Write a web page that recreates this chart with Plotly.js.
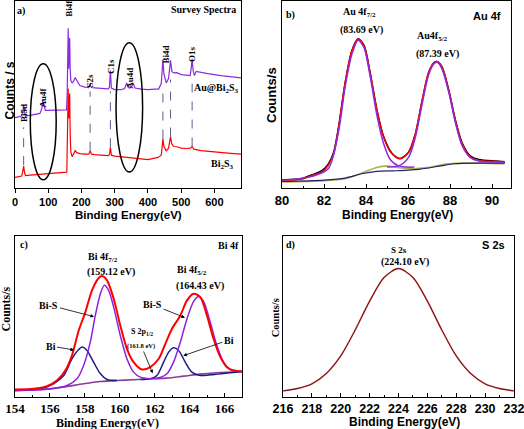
<!DOCTYPE html>
<html><head><meta charset="utf-8">
<script src="https://cdn.plot.ly/plotly-3.0.1.min.js"></script>
<style>html,body{margin:0;padding:0;background:#fff}</style>
</head><body>
<div id="chart" style="width:524px;height:429px"></div>
<script>
// ---------- Panel a: survey spectra (arbitrary counts) ----------
const surveyE_Au = [0,10,20,23,26,29,32,45,60,75,81,84,86,88,91,100,120,150,155,157,158.5,160,161.5,163,164.5,166,168,172,176,181,186,195,210,222,226,230,240,260,280,284,287,290,300,320,330,336,341,346,351,356,361,380,400,420,432,440,443,445,448,455,462,465,468,472,478,487,500,515,527,530,533,536,540,545,555,580,620,650,680];
const surveyCounts_Au = [70.7,71.5,72.3,76,83,76,72.5,73,74,75,80,89,82,84,78,78,78,78.3,78.5,95,140,160.7,120,140,150.7,120,108,105.7,107,111,108,103,101.5,101,103.5,101,100.7,100.5,99.7,101,118,100.5,99,99,100,105.7,101,100.5,102,105,100.5,99.5,99,99.5,99.5,105,120,129,115,105.7,110,120,128.3,117,115.7,116,114,113.5,113,120,130,118,113,117.3,116.5,115,113,112,110.7];
const surveyE_Bi = [0,10,20,23,26,29,32,45,60,80,100,120,150,155,156,157,158.5,160,161.5,163,164.5,166,168,172,176,181,186,195,210,222,226,230,240,260,280,284,287,290,300,330,360,400,430,440,443,445,448,455,462,465,468,472,478,487,500,515,528,533,538,560,600,640,680];
const surveyCounts_Bi = [10.7,11.5,12,16,22,15,12.5,13,13.5,14,14.5,15,16,16,17,45,85,100,70,85,95,55,36,31.5,34,37.5,35.5,34.5,34,34,37.5,34,33.5,33,32.5,33.5,41,33,32,31,30,28.5,30.7,33,42,49.7,42,37.3,40,45,51.7,44,41.7,41.5,40,39.7,40,41.7,39,37.5,36,35,34];
const surveyPeakE = [26,226,287,445,468,533];
const surveyDashTop = [61,97,97,95.7,109,112];
const surveyDashBottom = [23,37.5,41,49.7,51.7,41.7];
const surveyLabels = ['Bi5d','Au4f','Bi4f','S2s','C1s','Au4d','Bi4d','O1s'];
const surveyLabelE = [27,84,162,227,287,347,457,534];

// ---------- Panel b: Au 4f ----------
const au_E = [80,81,81.43,81.9,82.2,82.46,82.7,83,83.33,83.62,83.9,84.2,84.52,84.84,85.24,85.63,86.03,86.35,86.67,86.98,87.25,87.4,87.62,87.94,88.25,88.57,88.97,89.37,90.16,90.6];
const au_data = [24,29,40,52,72,108,186,314,414,449,430,345,234,154,104,89,108,163,262,347,378,380,364,294,205,136,96,86,81,79];
const au_fit  = [23,28,38,48,68,103,183,313,413,448,428,343,233,153,103,88,108,163,263,348,378,380,363,293,203,133,93,83,80,78];
const au_p1_E = [80,81.43,82.2,82.7,83,83.33,83.62,83.9,84.2,84.52,84.84,85.16,85.5,85.9,86.3];
const au_p1   = [23,35,58,173,303,403,445,423,335,218,133,85,68,63,63];
const au_p2_E = [85,85.6,86.03,86.35,86.67,86.98,87.25,87.4,87.62,87.94,88.25,88.57,88.97,89.37,90.16,90.6];
const au_p2   = [63,68,93,153,253,341,375,378,358,288,198,128,91,81,78,76];
const au_bg1_E = [80,82,83,83.8,84.5,85,85.5,86.2,87,87.8,88.5,89.5,90.6];
const au_bg1   = [18,22,28,45,62,66,62,58,62,72,75,75,73];
const au_bg2_E = [80,82,83,83.8,84.5,85.5,86.5,87.5,88.2,89.5,90.6];
const au_bg2   = [20,24,30,43,50,52,56,66,73,75,75];

// ---------- Panel c: Bi 4f ----------
const bi_E = [154,155.07,155.83,156.4,156.88,157.26,157.65,158.03,158.41,158.79,158.98,159.27,159.65,160.03,160.41,160.79,161.27,161.75,162.23,162.61,162.99,163.47,163.85,164.23,164.61,164.99,165.37,165.76,166.14,166.52,167];
const bi_fit = [21,23,31,48,78,123,198,253,318,355,361,348,293,213,143,103,81,88,113,158,203,243,288,308,298,243,173,118,88,78,75];
const biS1_E = [154,156.02,156.98,157.55,157.93,158.31,158.6,158.89,159.11,159.36,159.65,160.03,160.41,160.79,161.18,161.75];
const biS1   = [18,23,33,53,93,163,243,308,333,318,268,183,113,73,58,53];
const biS2_E = [161.75,162.32,162.7,163.08,163.47,163.85,164.23,164.51,164.8,165.18,165.56,165.95,166.33,167];
const biS2   = [53,57,68,103,163,233,285,300,285,223,153,103,81,75];
const bi1_E = [154,155.45,156.21,156.79,157.26,157.65,157.84,158.12,158.5,158.89,159.27,159.84];
const bi1   = [18,23,38,63,113,141,148,138,103,68,51,48];
const bi2_E = [161.18,161.75,162.13,162.51,162.8,163.08,163.37,163.75,164.13,164.61,165.18,167];
const bi2   = [51,53,63,103,133,146,138,103,73,63,65,75];
const biBg_E = [154,156.02,157.93,158.89,159.84,160.79,161.75,162.7,163.66,164.61,165.56,167];
const biBg   = [18,23,38,45,48,50,53,55,61,67,71,75];

// ---------- Panel d: S 2s ----------
const s_E = [216,217,218,219,220,221,222,223,224,225,226,227,228,229,230,231,232];
const s_counts = [17,24,38,69,122,200,287,358,385,358,287,200,122,69,38,24,17];

const W = 524, H = 429;
const SERIF = 'Liberation Serif', SANS = 'Liberation Sans';
const PX = px => px / W, PY = py => 1 - py / H;

function ln(x, y, xa, ya, color, width, shape) {
  return {x, y, xaxis: xa, yaxis: ya, type: 'scatter', mode: 'lines',
    line: {color, width, shape: shape || 'linear', smoothing: 0.8}, hoverinfo: 'skip', showlegend: false};
}

const traces = [
  ln(surveyE_Au, surveyCounts_Au, 'x', 'y', '#8a2be2', 1.2),
  ln(surveyE_Bi, surveyCounts_Bi, 'x', 'y', '#ff0000', 1.2),
  ln(au_bg1_E, au_bg1, 'x2', 'y2', '#b0ae4e', 1.6, 'spline'),
  ln(au_bg2_E, au_bg2, 'x2', 'y2', '#23236e', 1.2, 'spline'),
  ln(au_E, au_data, 'x2', 'y2', '#000000', 1.6, 'spline'),
  ln(au_E, au_fit, 'x2', 'y2', '#ff0000', 1.6, 'spline'),
  ln(au_p1_E, au_p1, 'x2', 'y2', '#8a2be2', 1.5, 'spline'),
  ln(au_p2_E, au_p2, 'x2', 'y2', '#8a2be2', 1.5, 'spline'),
  ln(biBg_E, biBg, 'x3', 'y3', '#8b3a9a', 1.6, 'spline'),
  ln(bi1_E, bi1, 'x3', 'y3', '#1c1c80', 1.5, 'spline'),
  ln(bi2_E, bi2, 'x3', 'y3', '#1c1c80', 1.5, 'spline'),
  ln(biS1_E, biS1, 'x3', 'y3', '#9020e0', 1.5, 'spline'),
  ln(biS2_E, biS2, 'x3', 'y3', '#9020e0', 1.5, 'spline'),
  ln(bi_E, bi_fit, 'x3', 'y3', '#ff0000', 2, 'spline'),
  ln(s_E, s_counts, 'x4', 'y4', '#fffbe0', 3, 'spline'),
  ln(s_E, s_counts, 'x4', 'y4', '#8a0f2e', 1.4, 'spline')
];

function xax(range, dom, y, fontFam, fontSize, dtick, ticks, minor) {
  const a = {domain: dom, anchor: y, range, dtick, tick0: range[0] - (range[0] % dtick),
    ticks, ticklen: 4, tickwidth: 1, tickcolor: '#000', ticklabeloverflow: 'allow',
    tickfont: {family: fontFam, size: fontSize, weight: 'bold', color: '#000'},
    showline: true, mirror: true, linecolor: '#000', linewidth: 1,
    showgrid: false, zeroline: false, fixedrange: true};
  if (minor) a.minor = {dtick: minor, ticks: ticks, ticklen: 2, tickcolor: '#000', showgrid: false};
  return a;
}
function yax(range, dom, x) {
  return {domain: dom, anchor: x, range, showticklabels: false, ticks: '',
    showline: true, mirror: true, linecolor: '#000', linewidth: 1,
    showgrid: false, zeroline: false, fixedrange: true};
}

const topDom = [PY(188), PY(1)], botDom = [PY(396.5), PY(236)];

function ann(text, px, py, size, family, extra) {
  return Object.assign({text, x: PX(px), y: PY(py), xref: 'paper', yref: 'paper',
    showarrow: false, xanchor: 'center', yanchor: 'middle',
    font: {family, size, weight: 'bold', color: '#000'}}, extra || {});
}
function arrow(text, px, py, hx, hy, size) {
  return {text, x: PX(hx), y: PY(hy), xref: 'paper', yref: 'paper', showarrow: true,
    ax: px - hx, ay: py - hy, arrowhead: 2, arrowsize: 0.9, arrowwidth: 0.8, arrowcolor: '#000',
    font: {family: SERIF, size, weight: 'bold', color: '#000'}};
}

const annotations = [
  // panel a
  ann('a)', 21, 11, 10, SERIF),
  ann('Survey Spectra', 238, 10, 10, SERIF, {xanchor: 'right'}),
  ann('Au@Bi<sub>2</sub>S<sub>3</sub>', 241, 89, 10, SERIF, {xanchor: 'right'}),
  ann('Bi<sub>2</sub>S<sub>3</sub>', 222, 165, 10, SERIF),
  ann('Binding Energy(eV)', 128, 214.5, 11.5, SANS),
  ann('Counts / s', 9, 90.5, 12, SANS, {textangle: -90}),
  // panel b
  ann('b)', 290, 15, 10, SERIF),
  ann('Au 4f', 487, 15.5, 11, SANS),
  ann('Au 4f<sub>7/2</sub>', 359, 13, 10, SERIF),
  ann('(83.69 eV)', 361.5, 29.7, 10, SERIF),
  ann('Au4f<sub>5/2</sub>', 432, 37, 10, SERIF),
  ann('(87.39 eV)', 437, 54.5, 10, SERIF),
  ann('Binding Energy(eV)', 397, 215, 12, SANS),
  ann('Counts/s', 272, 95, 13, SANS, {textangle: -90}),
  // panel c
  ann('c)', 24.3, 245, 10, SERIF),
  ann('Bi 4f', 240.5, 245, 10, SERIF, {xanchor: 'right'}),
  ann('Bi 4f<sub>7/2</sub>', 102.5, 257, 10, SERIF),
  ann('(159.12 eV)', 110.5, 271.7, 10, SERIF),
  ann('Bi 4f<sub>5/2</sub>', 191.7, 270.5, 10, SERIF),
  ann('(164.43 eV)', 200, 286, 10, SERIF),
  ann('S 2p<sub>1/2</sub>', 141.7, 331.5, 8, SERIF),
  arrow('Bi-S', 48.8, 305, 94, 316.7, 10),
  arrow('Bi-S', 152.5, 304.7, 185, 317.7, 10),
  arrow('Bi', 50.5, 346, 74, 350, 10),
  arrow('Bi', 228.8, 340, 183.3, 355.7, 10),
  arrow('(161.8 eV)', 141.3, 346, 152.7, 373.3, 6.5),
  ann('Binding Energy(eV)', 107, 422.5, 12, SERIF),
  ann('Counts/s', 5.5, 309, 12, SERIF, {textangle: -90}),
  // panel d
  ann('d)', 290.8, 245, 10, SERIF),
  ann('S 2s', 493, 245, 11, SANS),
  ann('S 2s', 398.8, 249.5, 9, SERIF),
  ann('(224.10 eV)', 405.3, 262, 10, SERIF),
  ann('Binding Energy(eV)', 404.5, 421.5, 12, SANS),
  ann('Counts/s', 275.3, 318, 10.5, SERIF, {textangle: -90})
];
// rotated peak labels in panel a (x in data units)
const labelPy = [113, 97.5, 8, 80, 66.5, 78.5, 54.5, 53.5];
surveyLabels.forEach((t, i) => {
  annotations.push({text: t, x: surveyLabelE[i], xref: 'x', y: PY(labelPy[i]), yref: 'paper',
    showarrow: false, textangle: -90, xanchor: 'center', yanchor: 'middle',
    font: {family: SERIF, size: 9, weight: 'bold', color: '#000'}});
});

const shapes = [];
surveyPeakE.forEach((e, i) => {
  shapes.push({type: 'line', xref: 'x', yref: 'y', x0: e, x1: e, y0: surveyDashBottom[i], y1: surveyDashTop[i],
    line: {color: '#5a5f8c', width: 1, dash: 'dash'}});
});
shapes.push({type: 'circle', xref: 'x', yref: 'y', x0: 46, x1: 124, y0: 8.3, y1: 125, line: {color: '#000', width: 1.5}});
shapes.push({type: 'circle', xref: 'x', yref: 'y', x0: 304, x1: 384, y0: 16, y1: 146, line: {color: '#000', width: 1.5}});

const layout = {
  width: W, height: H, margin: {l: 0, r: 0, t: 0, b: 0},
  paper_bgcolor: '#fff', plot_bgcolor: '#fff', showlegend: false,
  xaxis: xax([0, 680], [PX(15), PX(241)], 'y', SANS, 11, 100, 'outside'),
  yaxis: yax([0, 188], topDom, 'x'),
  xaxis2: xax([80, 90.9], [PX(282), PX(511)], 'y2', SANS, 13, 2, 'inside', 1),
  yaxis2: yax([0, 563], topDom, 'x2'),
  xaxis3: xax([154, 167], [PX(15), PX(242)], 'y3', SERIF, 13, 2, 'inside', 1),
  yaxis3: yax([0, 481], botDom, 'x3'),
  xaxis4: xax([216, 232], [PX(283), PX(514)], 'y4', SANS, 12.5, 2, 'inside', 1),
  yaxis4: yax([0, 483], botDom, 'x4'),
  annotations, shapes
};
Plotly.newPlot('chart', traces, layout, {staticPlot: true, displayModeBar: false});
</script>
</body></html>
